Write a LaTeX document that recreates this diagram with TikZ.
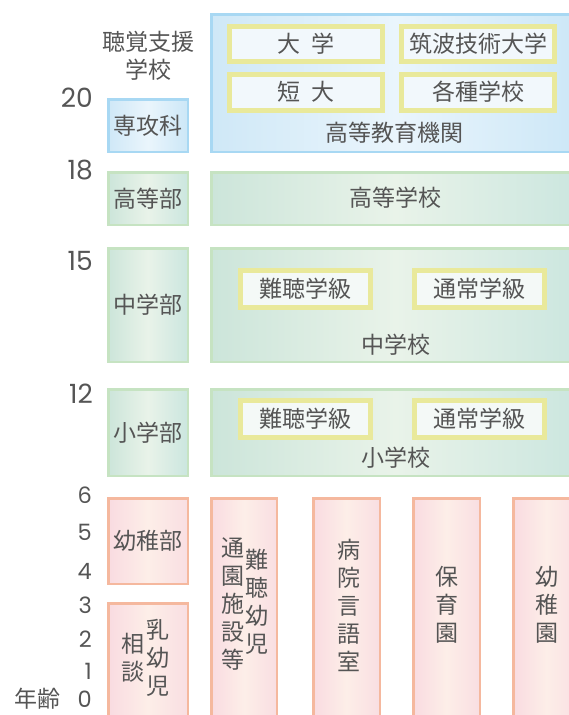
\documentclass[tikz,border=0pt]{standalone}
\usepackage{fontspec}
\setmainfont{Noto Sans CJK JP}
\newfontfamily\numfont{Poppins}
\definecolor{txt}{HTML}{555555}
\definecolor{blueL}{HTML}{CFE8F7}
\definecolor{blueM}{HTML}{EAF5FC}
\definecolor{blueR}{HTML}{CCE7F7}
\definecolor{bluebd}{HTML}{A8D8F3}
\definecolor{greenL}{HTML}{CCE5DA}
\definecolor{greenM}{HTML}{E9F3E9}
\definecolor{greenR}{HTML}{CBE6DF}
\definecolor{greenbd}{HTML}{C6E3C2}
\definecolor{pinkL}{HTML}{F9DBE1}
\definecolor{pinkM}{HTML}{FDEEE8}
\definecolor{pinkR}{HTML}{F9DEE2}
\definecolor{pinkbd}{HTML}{F5B89E}
\definecolor{yelbd}{HTML}{E9E99B}
\definecolor{innerB}{HTML}{F2F8FC}
\definecolor{innerG}{HTML}{F4F9F7}
\newcommand\mytf{\fontsize{23}{28}\selectfont}
\newcommand\mynf{\numfont\fontsize{26.5}{30}\selectfont}
\newcommand\mysf{\numfont\fontsize{22.5}{28}\selectfont}
\tikzset{
  bluebox/.style={draw=bluebd, line width=2.5pt, left color=blueL, right color=blueR, middle color=blueM},
  greenbox/.style={draw=greenbd, line width=2.5pt, left color=greenL, right color=greenR, middle color=greenM},
  pinkbox/.style={draw=pinkbd, line width=2.5pt, left color=pinkL, right color=pinkR, middle color=pinkM},
  yelboxB/.style={draw=yelbd, line width=5pt, fill=innerB},
  yelboxG/.style={draw=yelbd, line width=5pt, fill=innerG},
  lbl/.style={text=txt, font=\mytf, inner sep=0pt, align=center},
  num/.style={text=txt, font=\mynf, inner sep=0pt, anchor=base east},
  snum/.style={text=txt, font=\mysf, inner sep=0pt, anchor=base east}
}
\begin{document}
\begin{tikzpicture}[x=1pt,y=-1pt]
\useasboundingbox (0,0) rectangle (569,715);
\clip (0,0) rectangle (569,715);
% ---- higher education
\draw[bluebox] (211.25,14.25) rectangle (580,151.75);
\draw[yelboxB] (229.5,26.5) rectangle (382.5,61.5);
\draw[yelboxB] (401.5,26.5) rectangle (554.5,61.5);
\draw[yelboxB] (229.5,74.5) rectangle (382.5,110.5);
\draw[yelboxB] (401.5,74.5) rectangle (554.5,110.5);
\node[lbl] (daigaku) at (306,44) {大\hspace{0.45em}学};
\node[lbl] (tsukuba) at (478,44) {筑波技術大学};
\node[lbl] (tandai) at (306,92) {短\hspace{0.45em}大};
\node[lbl] (kakushu) at (478,92) {各種学校};
\node[lbl] (koto) at (394,133) {高等教育機関};
\draw[bluebox] (108.25,99.25) rectangle (187.75,151.75);
\node[lbl] (senko) at (148,125.5) {専攻科};
\node[lbl] (shien) at (148,56) {聴覚支援\\学校};
% ---- high school
\draw[greenbox] (108.25,172.25) rectangle (187.75,224.75);
\node[lbl] (kotobu) at (148,198.5) {高等部};
\draw[greenbox] (211.25,172.25) rectangle (580,224.75);
\node[lbl] (kogakko) at (395,198) {高等学校};
% ---- junior high
\draw[greenbox] (108.25,248.25) rectangle (187.75,361.75);
\node[lbl] (chubu) at (148,305) {中学部};
\draw[greenbox] (211.25,248.25) rectangle (580,361.75);
\draw[yelboxG] (240.5,270.5) rectangle (370.5,307.5);
\draw[yelboxG] (414.5,270.5) rectangle (544.5,307.5);
\node[lbl] (nan1) at (305.5,289) {難聴学級};
\node[lbl] (tsu1) at (479.5,289) {通常学級};
\node[lbl] (chugakko) at (396,345) {中学校};
% ---- elementary
\draw[greenbox] (108.25,389.25) rectangle (187.75,475.75);
\node[lbl] (shobu) at (148,432.5) {小学部};
\draw[greenbox] (211.25,389.25) rectangle (580,475.75);
\draw[yelboxG] (240.5,400.5) rectangle (370.5,437.5);
\draw[yelboxG] (414.5,400.5) rectangle (544.5,437.5);
\node[lbl] (nan2) at (305.5,419) {難聴学級};
\node[lbl] (tsu2) at (479.5,419) {通常学級};
\node[lbl] (shogakko) at (396,458) {小学校};
% ---- preschool
\draw[pinkbox] (108.25,498.25) rectangle (187.75,583.75);
\node[lbl] (yochibu) at (148,541) {幼稚部};
\draw[pinkbox] (108.25,603.25) rectangle (187.75,730);
\node[lbl] (nyu) at (157.5,657.5) {乳\\幼\\児};
\node[lbl] (sodan) at (132.5,657.5) {相\\談};
\draw[pinkbox] (211.25,498.25) rectangle (276.75,730);
\node[lbl] (nanyo) at (257,601.5) {難\\聴\\幼\\児};
\node[lbl] (tsuen) at (232.5,604.5) {通\\園\\施\\設\\等};
\draw[pinkbox] (313.25,498.25) rectangle (379.75,730);
\node[lbl] (byoin) at (348.5,605) {病\\院\\言\\語\\室};
\draw[pinkbox] (413.25,498.25) rectangle (479.75,730);
\node[lbl] (hoiku) at (446.5,605) {保\\育\\園};
\draw[pinkbox] (513.25,498.25) rectangle (580,730);
\node[lbl] (yochien) at (546.5,605) {幼\\稚\\園};
% ---- ages
\node[num] (a20) at (93,107.5) {20};
\node[num] (a18) at (93,179.5) {18};
\node[num] (a15) at (93,270.5) {15};
\node[num] (a12) at (93,403.5) {12};
\node[snum] (a6) at (92,503) {6};
\node[snum] (a5) at (92,540) {5};
\node[snum] (a4) at (92,579) {4};
\node[snum] (a3) at (92,613) {3};
\node[snum] (a2) at (92,647) {2};
\node[snum] (a1) at (92,679) {1};
\node[snum] (a0) at (92,707) {0};
\node[lbl] (nenrei) at (37,699) {年齢};
\end{tikzpicture}
\end{document}
